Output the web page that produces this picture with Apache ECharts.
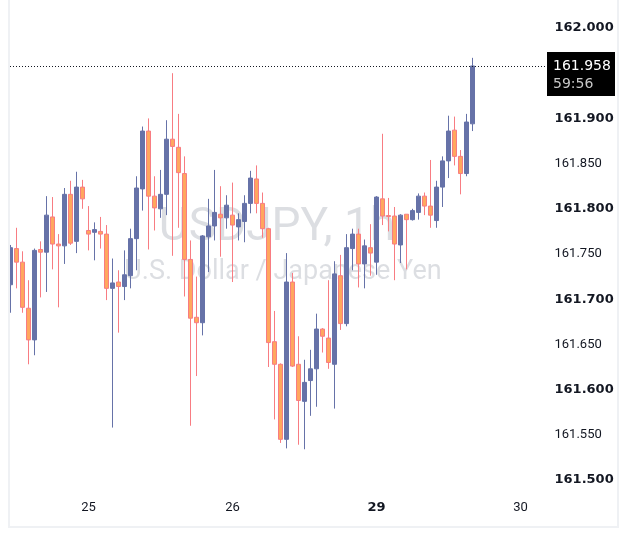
<!doctype html>
<html>
<head>
<meta charset="utf-8">
<style>
html, body { margin: 0; padding: 0; background: #fff; }
#chart-panel { width: 629px; height: 538px; }
</style>
<script src="https://cdn.jsdelivr.net/npm/echarts@6/dist/echarts.min.js"></script>
</head>
<body>
<div id="chart-panel"></div>
<script>
// USDJPY 1h candles
var opens = [
  161.716, 161.756, 161.741, 161.690, 161.655, 161.755, 161.752, 161.791, 161.761, 161.759, 161.816, 161.764, 161.824,
  161.776, 161.774, 161.775, 161.772, 161.712, 161.719, 161.714, 161.726, 161.767, 161.822, 161.886, 161.814, 161.800,
  161.816, 161.877, 161.868, 161.839, 161.744, 161.680, 161.674, 161.769, 161.781, 161.794, 161.790, 161.793, 161.780,
  161.786, 161.806, 161.833, 161.806, 161.778, 161.653, 161.628, 161.545, 161.719, 161.628, 161.587, 161.610, 161.623,
  161.667, 161.657, 161.628, 161.726, 161.673, 161.756, 161.772, 161.739, 161.757, 161.741, 161.811, 161.7925, 161.792,
  161.760, 161.794, 161.788, 161.796, 161.814, 161.803, 161.787, 161.824, 161.853, 161.887, 161.858, 161.839, 161.894
];
var closes = [
  161.757, 161.741, 161.691, 161.655, 161.754, 161.752, 161.793, 161.761, 161.759, 161.816, 161.762, 161.824, 161.811,
  161.772, 161.777, 161.772, 161.712, 161.718, 161.714, 161.727, 161.767, 161.823, 161.886, 161.814, 161.801, 161.816,
  161.877, 161.869, 161.840, 161.744, 161.679, 161.674, 161.770, 161.781, 161.796, 161.790, 161.804, 161.782, 161.788,
  161.806, 161.834, 161.806, 161.778, 161.652, 161.628, 161.545, 161.719, 161.626, 161.588, 161.608, 161.623, 161.667,
  161.659, 161.630, 161.728, 161.673, 161.757, 161.772, 161.739, 161.759, 161.751, 161.813, 161.792, 161.7915, 161.761,
  161.793, 161.788, 161.798, 161.814, 161.803, 161.793, 161.824, 161.853, 161.886, 161.858, 161.839, 161.896, 161.958
];
var lows = [
  161.685, 161.712, 161.685, 161.628, 161.638, 161.702, 161.708, 161.733, 161.691, 161.739, 161.760, 161.751, 161.800,
  161.754, 161.743, 161.756, 161.699, 161.558, 161.663, 161.699, 161.712, 161.732, 161.798, 161.755, 161.776, 161.790,
  161.793, 161.748, 161.779, 161.703, 161.560, 161.615, 161.660, 161.730, 161.765, 161.747, 161.778, 161.719, 161.765,
  161.763, 161.795, 161.795, 161.768, 161.625, 161.567, 161.541, 161.535, 161.625, 161.539, 161.534, 161.571, 161.581,
  161.641, 161.623, 161.579, 161.666, 161.670, 161.732, 161.713, 161.712, 161.726, 161.727, 161.782, 161.775, 161.721,
  161.740, 161.733, 161.787, 161.788, 161.793, 161.779, 161.779, 161.802, 161.834, 161.848, 161.816, 161.836, 161.886
];
var highs = [
  161.760, 161.779, 161.753, 161.721, 161.756, 161.764, 161.814, 161.813, 161.772, 161.823, 161.831, 161.841, 161.832,
  161.803, 161.785, 161.791, 161.782, 161.745, 161.732, 161.754, 161.778, 161.836, 161.891, 161.900, 161.836, 161.843,
  161.898, 161.950, 161.905, 161.858, 161.765, 161.725, 161.771, 161.811, 161.843, 161.825, 161.815, 161.829, 161.795,
  161.815, 161.842, 161.848, 161.818, 161.779, 161.687, 161.629, 161.751, 161.729, 161.659, 161.633, 161.644, 161.684,
  161.668, 161.721, 161.742, 161.749, 161.772, 161.778, 161.778, 161.766, 161.783, 161.814, 161.883, 161.812, 161.802,
  161.794, 161.794, 161.800, 161.817, 161.818, 161.854, 161.831, 161.858, 161.903, 161.902, 161.865, 161.905, 161.967
];
var dayLabels = ['25', '26', '29', '30'];
var boldDays = ['29'];
var firstDaySlot = 13;   // hour slot of 25 00:00
var emptySlots = 9;      // future hours shown on the right
var countdown = '59:56';

var slots = opens.length + emptySlots;
var cats = [];
var candles = [];
for (var k = 0; k < slots; k++) {
    var d = k - firstDaySlot;
    cats.push(d >= 0 && d % 24 === 0 ? (dayLabels[d / 24] || '') : '');
    candles.push(k < opens.length ? [opens[k], closes[k], lows[k], highs[k]] : '-');
}

var up = '#6672a8', downFill = '#ffa75e', downLine = '#f87c82';
var textColor = '#131722';

var myChart = echarts.init(document.getElementById('chart-panel'));
var option = {
    animation: false,
    grid: { left: 7.5, right: 99.5, top: 28, bottom: 58 },
    xAxis: {
        type: 'category',
        data: cats,
        axisLine: { show: false },
        axisTick: { show: false },
        splitLine: { show: false },
        axisLabel: {
            interval: 0,
            margin: 21,
            color: textColor,
            fontFamily: 'Roboto',
            fontSize: 13,
            formatter: function (v) {
                if (!v) return '';
                return boldDays.indexOf(v) >= 0 ? '{b|' + v + '}' : v;
            },
            rich: { b: { fontFamily: 'DejaVu Sans', fontWeight: 'bold', fontSize: 13, color: textColor } }
        }
    },
    yAxis: {
        type: 'value',
        position: 'right',
        min: 161.5,
        max: 162,
        interval: 0.05,
        axisLine: { show: false },
        axisTick: { show: false },
        splitLine: { show: false },
        axisLabel: {
            margin: 25,
            align: 'left',
            color: textColor,
            fontFamily: 'Roboto',
            fontSize: 13,
            formatter: function (v) {
                var s = v.toFixed(3);
                return Math.round(v * 1000) % 100 === 0 ? '{b|' + s + '}' : s;
            },
            rich: { b: { fontFamily: 'DejaVu Sans', fontWeight: 'bold', fontSize: 13, color: textColor } }
        }
    },
    series: [{
        type: 'candlestick',
        data: candles,
        barWidth: 4,
        itemStyle: {
            color: up,
            color0: downFill,
            borderColor: up,
            borderColor0: downLine,
            borderWidth: 1
        }
    }]
};
myChart.setOption(option);

// watermark, last price line, price box and frame
var last = closes[closes.length - 1];
var py = Math.round(myChart.convertToPixel({ yAxisIndex: 0 }, last)) + 0.5;
myChart.setOption({
    graphic: [
        { type: 'text', z: 0, x: 277, y: 228,
          style: { text: 'USDJPY, 1h', font: '46px Roboto', fill: 'rgba(178,181,190,0.45)', textAlign: 'center', textVerticalAlign: 'middle' } },
        { type: 'text', z: 0, x: 283, y: 272,
          style: { text: 'U.S. Dollar / Japanese Yen', font: '27px Roboto', fill: 'rgba(178,181,190,0.45)', textAlign: 'center', textVerticalAlign: 'middle' } },
        { type: 'line', z: 50, shape: { x1: 10, y1: py, x2: 547, y2: py },
          style: { stroke: '#131722', lineWidth: 1, lineDash: [1, 2] } },
        { type: 'rect', z: 60, shape: { x: 547, y: py - 14.5, width: 68, height: 44 }, style: { fill: '#000' } },
        { type: 'text', z: 61, x: 553, y: py,
          style: { text: last.toFixed(3), font: '14px "DejaVu Sans"', fill: '#fff', textVerticalAlign: 'middle' } },
        { type: 'text', z: 61, x: 553, y: py + 18,
          style: { text: countdown, font: '14px "DejaVu Sans"', fill: '#c8c8c8', textVerticalAlign: 'middle' } },
        { type: 'rect', z: 70, shape: { x: 0, y: 0, width: 9, height: 538 }, style: { fill: '#fff' } },
        { type: 'rect', z: 71, shape: { x: 9, y: -10, width: 609, height: 537 },
          style: { fill: 'none', stroke: '#eff1f4', lineWidth: 2 } }
    ]
});
</script>
</body>
</html>
